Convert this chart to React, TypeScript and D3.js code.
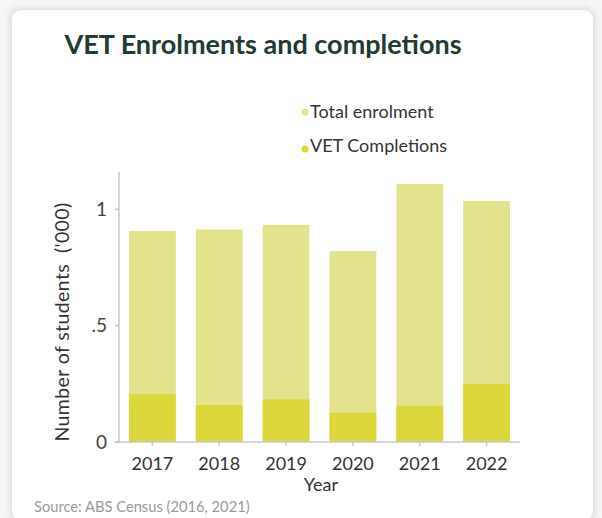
import React from "react";
import * as d3 from "d3";

const years = ["2017", "2018", "2019", "2020", "2021", "2022"];
const totalEnrolment = [0.907, 0.913, 0.933, 0.82, 1.109, 1.036];
const vetCompletions = [0.206, 0.159, 0.183, 0.126, 0.156, 0.249];
const yTicks = [0, 0.5, 1];
const yTickLabels = ["0", ".5", "1"];

const W = 602;
const H = 518;
const plot = { left: 119, right: 520, top: 172, bottom: 442 };
const FONT = "Lato, 'Open Sans', sans-serif";

export default function App() {
  const x = d3
    .scaleBand<string>()
    .domain(years)
    .range([plot.left, plot.right])
    .paddingInner(0.3)
    .paddingOuter(0.15);
  const y = d3.scaleLinear().domain([0, 1.16]).range([plot.bottom, plot.top]);

  return (
    <svg
      width={W}
      height={H}
      style={{ position: "absolute", left: 0, top: 0, background: "#f6f6f6" }}
    >
      <defs>
        <filter id="sh" x="-5%" y="-5%" width="110%" height="110%">
          <feGaussianBlur stdDeviation="3" />
        </filter>
      </defs>
      <rect x={10} y={8} width={585} height={514} rx={9} fill="#dcdcdc" filter="url(#sh)" />
      <rect x={12} y={10} width={581} height={510} rx={9} fill="#ffffff" />

      <text
        x={263}
        y={54}
        textAnchor="middle"
        fontFamily={FONT}
        fontWeight={700}
        fontSize={27}
        fill="#203b30"
      >
        VET Enrolments and completions
      </text>

      {/* legend */}
      <circle cx={305} cy={112} r={3.5} fill="#e3e38e" />
      <text x={310} y={118} fontFamily={FONT} fontSize={18} fill="#333">
        Total enrolment
      </text>
      <circle cx={305} cy={149} r={3.5} fill="#d9d73a" />
      <text x={310} y={152} fontFamily={FONT} fontSize={18} fill="#333">
        VET Completions
      </text>

      {/* bars */}
      {years.map((yr, i) => (
        <g key={yr}>
          <rect
            x={x(yr)}
            y={y(totalEnrolment[i])}
            width={x.bandwidth()}
            height={y(0) - y(totalEnrolment[i])}
            fill="#e3e38e"
          />
          <rect
            x={x(yr)}
            y={y(vetCompletions[i])}
            width={x.bandwidth()}
            height={y(0) - y(vetCompletions[i])}
            fill="#dcd83c"
          />
        </g>
      ))}

      {/* axes */}
      <line x1={plot.left} x2={plot.left} y1={plot.top} y2={plot.bottom} stroke="#c9c9c9" strokeWidth={1.5} />
      <line x1={plot.left - 4} x2={plot.right} y1={plot.bottom} y2={plot.bottom} stroke="#c9c9c9" strokeWidth={1.5} />
      {yTicks.map((t, i) => (
        <g key={t}>
          <line x1={plot.left - 4} x2={plot.left} y1={y(t)} y2={y(t)} stroke="#c9c9c9" strokeWidth={1.5} />
          <text
            x={plot.left - 12}
            y={y(t)}
            dy="0.35em"
            textAnchor="end"
            fontFamily={FONT}
            fontSize={19}
            fill="#444"
          >
            {yTickLabels[i]}
          </text>
        </g>
      ))}
      {years.map((yr) => {
        const cx = (x(yr) ?? 0) + x.bandwidth() / 2;
        return (
          <g key={yr}>
            <line x1={cx} x2={cx} y1={plot.bottom} y2={plot.bottom + 4} stroke="#c9c9c9" strokeWidth={1.5} />
            <text x={cx} y={470} textAnchor="middle" fontFamily={FONT} fontSize={18} fill="#333">
              {yr}
            </text>
          </g>
        );
      })}
      <text x={321} y={491} textAnchor="middle" fontFamily={FONT} fontSize={18} fill="#333">
        Year
      </text>
      <text
        transform={`translate(69, 322) rotate(-90)`}
        textAnchor="middle"
        fontFamily={FONT}
        fontSize={19.5}
        letterSpacing={0.4}
        fill="#333"
        style={{ whiteSpace: "pre" }}
      >
        {"Number of students  ('000)"}
      </text>
      <text x={34} y={512} fontFamily={FONT} fontSize={14.7} fill="#9a9a9a">
        Source: ABS Census (2016, 2021)
      </text>
    </svg>
  );
}
